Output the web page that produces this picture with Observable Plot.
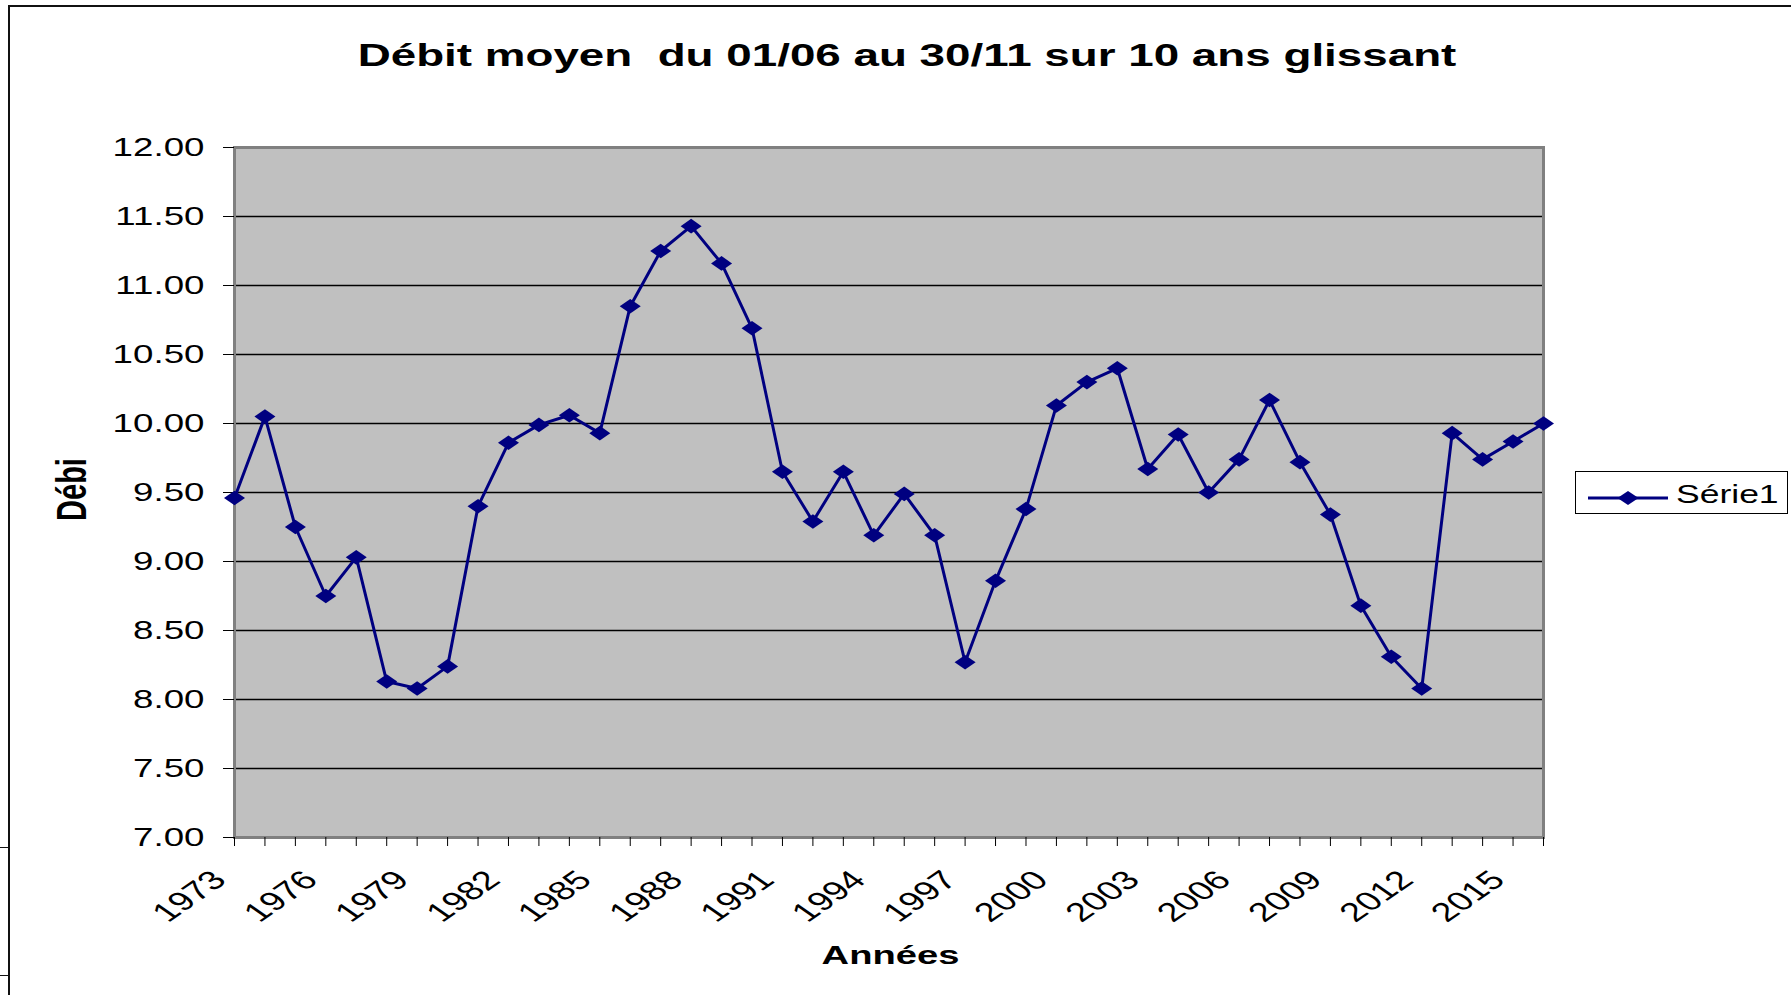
<!DOCTYPE html>
<html>
<head>
<meta charset="utf-8">
<script src="https://cdn.jsdelivr.net/npm/d3@7"></script>
<script src="https://cdn.jsdelivr.net/npm/@observablehq/plot@0.6"></script>
<style>
  html, body { margin: 0; padding: 0; background: #fff; overflow: hidden; }
  #wrap { position: relative; width: 1791px; height: 995px; font-family: "Liberation Sans", Arial, sans-serif; color: #000; }
  #title { position: relative; height: 110px; }
  #title span { position: absolute; left: 0; width: 1814px; top: 39px; text-align: center; font-weight: bold;
    font-size: 32px; line-height: 1; white-space: pre; transform: scaleX(1.43); transform-origin: 907px 0; }
  #chart svg { display: block; }
  .bline { position: absolute; background: #111; }
  #legend { position: absolute; left: 1575px; top: 471px; width: 211px; height: 41px; border: 1px solid #000; background: #fff; }
  #legsym { position: absolute; left: 1588px; top: 488px; }
  #legtext { position: absolute; left: 1676px; top: 482px; font-size: 25px; line-height: 1; white-space: pre;
    transform: scaleX(1.42); transform-origin: 0 0; }
</style>
</head>
<body>
<div id="wrap">
  <div id="title"><span></span></div>
  <div id="chart"></div>
  <div class="bline" style="left:8px;top:5px;width:2px;height:990px;"></div>
  <div class="bline" style="left:8px;top:5px;width:1783px;height:2px;"></div>
  <div class="bline" style="left:0px;top:847px;width:9px;height:1px;"></div>
  <div class="bline" style="left:0px;top:975px;width:9px;height:1px;"></div>
  <div id="legend"></div>
  <svg id="legsym" width="80" height="20">
    <line x1="0" y1="10" x2="80" y2="10" stroke="#000080" stroke-width="3"></line>
    <path d="M40,3L50.5,10L40,17L29.5,10Z" fill="#000080"></path>
  </svg>
  <span id="legtext"></span>
</div>
<script>
// ---- data ----
const titleText = "Débit moyen  du 01/06 au 30/11 sur 10 ans glissant";
const xLabel = "Années";
const yLabel = "Débi";
const seriesName = "Série1";

const years = [1973, 1974, 1975, 1976, 1977, 1978, 1979, 1980, 1981, 1982, 1983,
  1984, 1985, 1986, 1987, 1988, 1989, 1990, 1991, 1992, 1993, 1994,
  1995, 1996, 1997, 1998, 1999, 2000, 2001, 2002, 2003, 2004, 2005,
  2006, 2007, 2008, 2009, 2010, 2011, 2012, 2013, 2014, 2015, 2016];

const debit = [9.46, 10.05, 9.25, 8.75, 9.03, 8.13, 8.08, 8.24, 9.40, 9.86, 9.99,
  10.06, 9.93, 10.85, 11.25, 11.43, 11.16, 10.69, 9.65, 9.29, 9.65, 9.19,
  9.49, 9.19, 8.27, 8.86, 9.38, 10.13, 10.30, 10.40, 9.67, 9.92, 9.50,
  9.74, 10.17, 9.72, 9.34, 8.68, 8.31, 8.08, 9.93, 9.74, 9.87, 10.00];

const yTicks = [7.0, 7.5, 8.0, 8.5, 9.0, 9.5, 10.0, 10.5, 11.0, 11.5, 12.0];
const xTickLabels = [1973, 1976, 1979, 1982, 1985, 1988, 1991, 1994, 1997, 2000, 2003, 2006, 2009, 2012, 2015];

// ---- build ----
const data = years.map((year, i) => ({year, value: debit[i]}));
const STRETCH = 1.44;
const wideDiamond = {
  draw(ctx, size) {
    const r = Math.sqrt(size / Math.PI), w = r * STRETCH;
    ctx.moveTo(0, -r); ctx.lineTo(w, 0); ctx.lineTo(0, r); ctx.lineTo(-w, 0); ctx.closePath();
  }
};

document.querySelector("#title span").textContent = titleText;
document.getElementById("legtext").textContent = seriesName;

const chart = Plot.plot({
  width: 1791,
  height: 885,
  marginTop: 37,
  marginBottom: 158,
  marginLeft: 234,
  marginRight: 248,
  style: {fontFamily: "'Liberation Sans', Arial, sans-serif", fontSize: "24px", background: "transparent", overflow: "visible", color: "#000"},
  x: {type: "linear", domain: [years[0], years[years.length - 1]]},
  y: {domain: [yTicks[0], yTicks[yTicks.length - 1]]},
  marks: [
    Plot.frame({fill: "#c0c0c0", stroke: "none"}),
    Plot.gridY(yTicks, {stroke: "#000", strokeOpacity: 1, strokeWidth: 1.3}),
    Plot.frame({stroke: "#808080", strokeWidth: 3, fill: "none"}),
    Plot.axisY(yTicks, {tickSize: 11, tickPadding: 19, tickFormat: d => d.toFixed(2), fontSize: 25.5, label: null}),
    Plot.axisX(years, {tickSize: 9, tickFormat: () => "", label: null}),
    Plot.axisX(xTickLabels, {tickSize: 0, tickPadding: 38, tickRotate: -45, tickFormat: d => String(d), fontSize: 26.5, label: null, dx: -15}),
    Plot.text([yLabel], {text: d => d, frameAnchor: "left", textAnchor: "middle", rotate: -90, lineAnchor: "bottom", dx: -149, dy: -3, fontSize: 29, fontWeight: "bold"}),
    Plot.text([xLabel], {text: d => d, frameAnchor: "bottom", textAnchor: "middle", lineAnchor: "bottom", dy: 126, dx: 1.5, fontSize: 26.5, fontWeight: "bold"}),
    Plot.line(data, {x: "year", y: "value", stroke: "#000080", strokeWidth: 3}),
    Plot.dot(data, {x: "year", y: "value", symbol: wideDiamond, r: 7.3, fill: "#000080", stroke: "none"})
  ]
});

// horizontal stretch of all chart text (the reference picture is stretched horizontally)
chart.querySelectorAll("text").forEach(t => {
  const tr = t.getAttribute("transform");
  const m = tr && tr.match(/^\s*translate\(([^)]*)\)(.*)$/);
  if (m) {
    t.setAttribute("transform", `translate(${m[1]}) scale(${STRETCH},1)${m[2]}`);
  } else {
    const x = +(t.getAttribute("x") || 0);
    t.setAttribute("transform", `translate(${x},0) scale(${STRETCH},1) translate(${-x},0)` + (tr ? " " + tr : ""));
  }
});

document.getElementById("chart").appendChild(chart);
</script>
</body>
</html>
